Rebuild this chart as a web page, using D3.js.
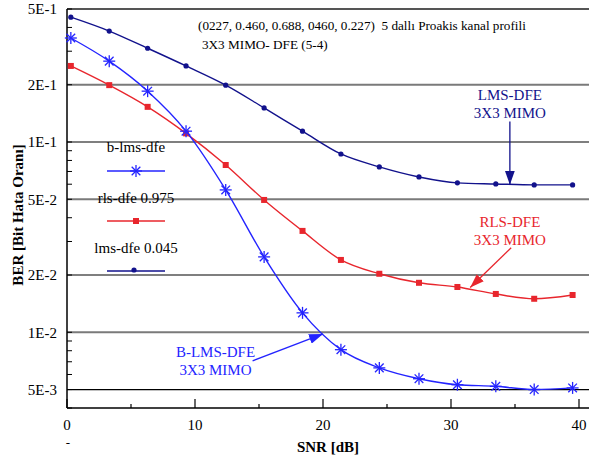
<!DOCTYPE html>
<html>
<head>
<meta charset="utf-8">
<script src="https://cdn.jsdelivr.net/npm/d3@7"></script>
<style>
  body { margin: 0; background: #fff; }
  text { font-family: "Liberation Serif", "DejaVu Serif", serif; }
</style>
</head>
<body>
<svg id="chart" width="589" height="459" font-family="Liberation Serif, serif"></svg>
<script>
// data
var snr = [0.3, 3.3, 6.3, 9.3, 12.4, 15.4, 18.4, 21.4, 24.4, 27.5, 30.5, 33.5, 36.5, 39.5];
var bLmsDfe = [0.352, 0.266, 0.185, 0.114, 0.056, 0.0249, 0.01265, 0.0081, 0.0065, 0.0057, 0.0053, 0.0052, 0.0050, 0.0051];
var rlsDfe = [0.251, 0.199, 0.153, 0.111, 0.0757, 0.0496, 0.0341, 0.0240, 0.0203, 0.0182, 0.0173, 0.0159, 0.0150, 0.0157];
var lmsDfe = [0.453, 0.383, 0.311, 0.251, 0.199, 0.151, 0.114, 0.0865, 0.074, 0.0655, 0.061, 0.0602, 0.0595, 0.0595];

var xTicks = [0, 10, 20, 30, 40];
var xMinor = [5, 15, 25, 35];
var yTicks = [0.5, 0.2, 0.1, 0.05, 0.02, 0.01, 0.005];
var yTickLabels = ["5E-1", "2E-1", "1E-1", "5E-2", "2E-2", "1E-2", "5E-3"];
var legendNames = ["b-lms-dfe", "rls-dfe 0.975", "lms-dfe 0.045"];

var blue = "#2424ff", red = "#e8262d", navy = "#12128c";
var serif = "'Liberation Serif', 'DejaVu Serif', serif";

var svg = d3.select("#chart");
var margin = { top: 9, right: 0, bottom: 51, left: 67 };
var width = 589, height = 459;

var x = d3.scaleLinear().domain([0, 40]).range([67, 579]);
var y = d3.scaleLog().domain([0.004, 0.5]).range([408, 9]);

// grid lines (alternating grey / black like the original)
svg.append("g").selectAll("line")
  .data(yTicks.slice(1))
  .enter().append("line")
  .attr("x1", margin.left).attr("x2", width)
  .attr("y1", function (d) { return y(d); })
  .attr("y2", function (d) { return y(d); })
  .attr("stroke", function (d, i) { return i % 2 == 0 ? "#7a7a7a" : "#000"; })
  .attr("stroke-width", function (d, i) { return i % 2 == 0 ? 2 : 1.2; });

// top border
svg.append("line")
  .attr("x1", margin.left).attr("x2", width)
  .attr("y1", y(0.5)).attr("y2", y(0.5))
  .attr("stroke", "#555").attr("stroke-width", 2);

// axes lines
svg.append("line")
  .attr("x1", margin.left).attr("x2", margin.left)
  .attr("y1", y(0.5)).attr("y2", 408)
  .attr("stroke", "#000").attr("stroke-width", 1.5);
svg.append("line")
  .attr("x1", margin.left).attr("x2", width)
  .attr("y1", 408).attr("y2", 408)
  .attr("stroke", "#000").attr("stroke-width", 1.5);

// y minor ticks (inside)
var yMinor = [];
[0.001, 0.01, 0.1].forEach(function (dec) {
  for (var k = 1; k <= 9; k++) {
    var v = dec * k;
    if (v >= 0.004 && v <= 0.5) yMinor.push(v);
  }
});
svg.append("g").selectAll("line")
  .data(yMinor)
  .enter().append("line")
  .attr("x1", margin.left).attr("x2", margin.left + 5)
  .attr("y1", function (d) { return y(d); })
  .attr("y2", function (d) { return y(d); })
  .attr("stroke", "#000").attr("stroke-width", 1);

// y tick labels
svg.append("g").selectAll("text")
  .data(yTicks)
  .enter().append("text")
  .attr("x", 57)
  .attr("y", function (d) { return y(d); })
  .attr("dy", "0.35em")
  .attr("text-anchor", "end")
  .style("font-family", serif)
  .style("font-size", "15px")
  .text(function (d, i) { return yTickLabels[i]; });

// x ticks, pointing up into the plot
svg.append("g").selectAll("line")
  .data(xTicks)
  .enter().append("line")
  .attr("x1", function (d) { return x(d); }).attr("x2", function (d) { return x(d); })
  .attr("y1", 408).attr("y2", 399)
  .attr("stroke", "#000").attr("stroke-width", 1.2);
svg.append("g").selectAll("line")
  .data(xMinor)
  .enter().append("line")
  .attr("x1", function (d) { return x(d); }).attr("x2", function (d) { return x(d); })
  .attr("y1", 408).attr("y2", 404)
  .attr("stroke", "#000").attr("stroke-width", 1.2);
svg.append("g").selectAll("text")
  .data(xTicks)
  .enter().append("text")
  .attr("x", function (d) { return x(d); })
  .attr("y", 430)
  .attr("text-anchor", "middle")
  .style("font-family", serif)
  .style("font-size", "15px")
  .text(function (d) { return d; });
svg.append("text")
  .attr("x", x(0) + 1).attr("y", 447)
  .attr("text-anchor", "middle")
  .style("font-family", serif)
  .style("font-size", "13px")
  .text("-");

// axis titles
svg.append("text")
  .attr("x", 328).attr("y", 452)
  .attr("text-anchor", "middle")
  .style("font-family", serif)
  .style("font-size", "15px").style("font-weight", "bold")
  .text("SNR [dB]");
svg.append("text")
  .attr("transform", "translate(23,215) rotate(-90)")
  .attr("text-anchor", "middle")
  .style("font-family", serif)
  .style("font-size", "15px").style("font-weight", "bold")
  .text("BER [Bit Hata Oranı]");

// header text
svg.append("text")
  .attr("x", 198).attr("y", 30)
  .style("font-family", serif)
  .style("font-size", "13.2px")
  .style("white-space", "pre")
  .text("(0227, 0.460, 0.688, 0460, 0.227)  5 dallı Proakis kanal profili");
svg.append("text")
  .attr("x", 202).attr("y", 49)
  .style("font-family", serif)
  .style("font-size", "13.2px")
  .text("3X3 MIMO- DFE (5-4)");

// series
var line = d3.line()
  .x(function (d) { return x(d[0]); })
  .y(function (d) { return y(d[1]); })
  .curve(d3.curveMonotoneX);

function pairs(vals) { return snr.map(function (s, i) { return [s, vals[i]]; }); }

function drawStar(g, cx, cy, color) {
  var r = 6;
  [[0, r], [r, 0], [r * 0.72, r * 0.72], [r * 0.72, -r * 0.72]].forEach(function (p) {
    g.append("line")
      .attr("x1", cx - p[0]).attr("x2", cx + p[0])
      .attr("y1", cy - p[1]).attr("y2", cy + p[1])
      .attr("stroke", color).attr("stroke-width", 1.3);
  });
}

var series = [
  { vals: lmsDfe, color: navy, marker: "dot" },
  { vals: rlsDfe, color: red, marker: "square" },
  { vals: bLmsDfe, color: blue, marker: "star" }
];

series.forEach(function (s) {
  var g = svg.append("g");
  g.append("path")
    .datum(pairs(s.vals))
    .attr("d", line)
    .attr("fill", "none")
    .attr("stroke", s.color)
    .attr("stroke-width", 1.4);
  pairs(s.vals).forEach(function (d) {
    var cx = x(d[0]), cy = y(d[1]);
    if (s.marker == "dot") {
      g.append("circle").attr("cx", cx).attr("cy", cy).attr("r", 2.6).attr("fill", s.color);
    } else if (s.marker == "square") {
      g.append("rect").attr("x", cx - 3).attr("y", cy - 3).attr("width", 6).attr("height", 6).attr("fill", s.color);
    } else {
      drawStar(g, cx, cy, s.color);
    }
  });
});

// legend
var legendColors = [blue, red, navy];
var legendMarkers = ["star", "square", "dot"];
legendNames.forEach(function (name, i) {
  var ty = 152 + i * 50.5, ly = 171 + i * 50;
  svg.append("text")
    .attr("x", 136).attr("y", ty)
    .attr("text-anchor", "middle")
    .style("font-family", serif)
    .style("font-size", "15px")
    .text(name);
  svg.append("line")
    .attr("x1", 107).attr("x2", 165)
    .attr("y1", ly).attr("y2", ly)
    .attr("stroke", legendColors[i]).attr("stroke-width", 1.4);
  if (legendMarkers[i] == "star") drawStar(svg, 136, ly, legendColors[i]);
  else if (legendMarkers[i] == "square")
    svg.append("rect").attr("x", 133).attr("y", ly - 3).attr("width", 6).attr("height", 6).attr("fill", legendColors[i]);
  else
    svg.append("circle").attr("cx", 134).attr("cy", ly - 1).attr("r", 2.6).attr("fill", legendColors[i]);
});

// annotations, placed in data space
var annotations = [
  { lines: ["LMS-DFE", "3X3 MIMO"], color: navy, tx: 34.6, ty: 0.177, from: [34.6, 0.128], to: [34.6, 0.0597] },
  { lines: ["RLS-DFE", "3X3 MIMO"], color: red, tx: 34.6, ty: 0.038, from: [34.7, 0.0278], to: [31.5, 0.0172] },
  { lines: ["B-LMS-DFE", "3X3 MIMO"], color: blue, tx: 11.6, ty: 0.0079, from: [14.5, 0.00708], to: [20.0, 0.0098] }
];

var defs = svg.append("defs");
annotations.forEach(function (a, i) {
  defs.append("marker")
    .attr("id", "arrow" + i)
    .attr("viewBox", "0 0 14 10")
    .attr("refX", 14).attr("refY", 5)
    .attr("markerWidth", 14).attr("markerHeight", 10)
    .attr("markerUnits", "userSpaceOnUse")
    .attr("orient", "auto")
    .append("path")
    .attr("d", "M0,0 L14,5 L0,10 Z")
    .attr("fill", a.color);

  a.lines.forEach(function (t, j) {
    svg.append("text")
      .attr("x", x(a.tx)).attr("y", y(a.ty) + j * 18)
      .attr("dy", "0.35em")
      .attr("text-anchor", "middle")
      .style("font-family", serif)
      .style("font-size", "15px")
      .attr("fill", a.color)
      .text(t);
  });
  svg.append("line")
    .attr("x1", x(a.from[0])).attr("y1", y(a.from[1]))
    .attr("x2", x(a.to[0])).attr("y2", y(a.to[1]))
    .attr("stroke", a.color).attr("stroke-width", 1.3)
    .attr("marker-end", "url(#arrow" + i + ")");
});
</script>
</body>
</html>
